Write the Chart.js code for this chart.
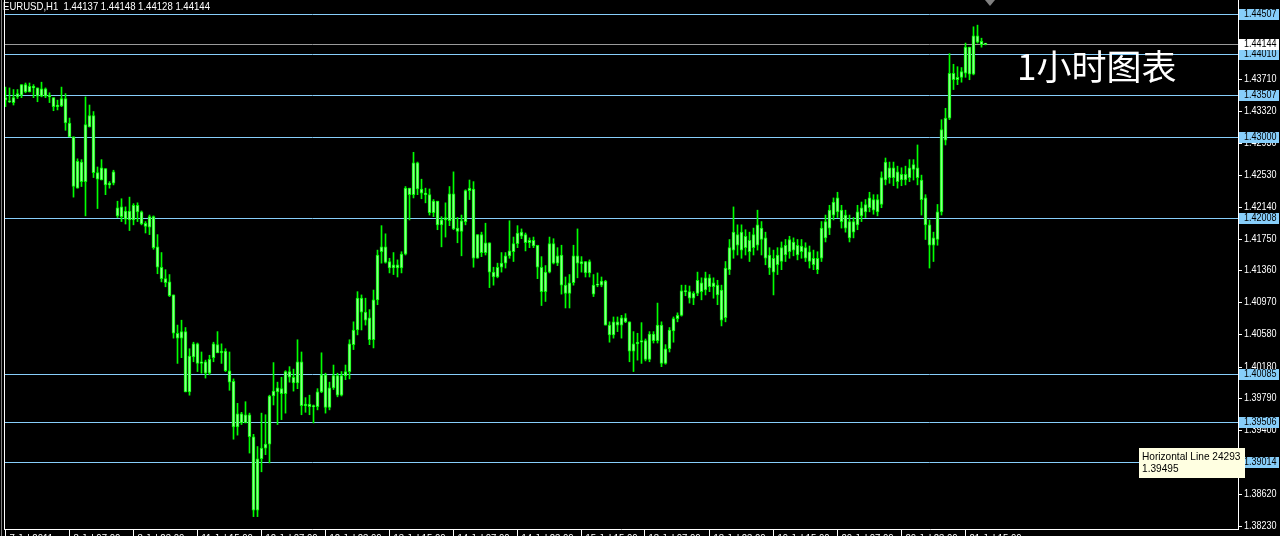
<!DOCTYPE html>
<html>
<head>
<meta charset="utf-8">
<script src="https://cdn.jsdelivr.net/npm/chart.js@4/dist/chart.umd.min.js"></script>
<style>
  html, body { margin: 0; padding: 0; background: #000; }
  canvas { display: block; }
</style>
</head>
<body>
<canvas id="chart" width="1280" height="536"></canvas>
<script>
// EURUSD H1 bars, oldest first
const opens = [
  1.4348, 1.4344, 1.4342, 1.4349, 1.4351, 1.4355, 1.4362, 1.4360, 1.4360, 1.4350,
  1.4359, 1.4351, 1.4348, 1.4337, 1.4338, 1.4347, 1.4317, 1.4300, 1.4237, 1.4269,
  1.4245, 1.4312, 1.4326, 1.4256, 1.4247, 1.4261, 1.4241, 1.4243, 1.4213, 1.4202,
  1.4209, 1.4198, 1.4198, 1.4216, 1.4208, 1.4190, 1.4189, 1.4202, 1.4165, 1.4140,
  1.4121, 1.4122, 1.4106, 1.4059, 1.4053, 1.4061, 1.3987, 1.4030, 1.4046, 1.4022,
  1.4024, 1.4010, 1.4029, 1.4045, 1.4035, 1.4037, 1.4013, 1.4000, 1.3944, 1.3960,
  1.3949, 1.3959, 1.3932, 1.3842, 1.3905, 1.3918, 1.3923, 1.3982, 1.3987, 1.3991,
  1.3985, 1.4012, 1.4005, 1.3998, 1.4024, 1.3970, 1.3972, 1.3969, 1.3969, 1.3987,
  1.4008, 1.3968, 1.3992, 1.4007, 1.3983, 1.4007, 1.4012, 1.4045, 1.4063, 1.4102,
  1.4085, 1.4078, 1.4051, 1.4100, 1.4159, 1.4165, 1.4147, 1.4139, 1.4143, 1.4139,
  1.4156, 1.4237, 1.4229, 1.4268, 1.4236, 1.4231, 1.4229, 1.4207, 1.4221, 1.4192,
  1.4198, 1.4197, 1.4230, 1.4188, 1.4184, 1.4196, 1.4234, 1.4236, 1.4151, 1.4180,
  1.4158, 1.4170, 1.4134, 1.4128, 1.4140, 1.4145, 1.4154, 1.4159, 1.4169, 1.4178,
  1.4180, 1.4170, 1.4173, 1.4167, 1.4140, 1.4110, 1.4134, 1.4169, 1.4145, 1.4155,
  1.4118, 1.4108, 1.4121, 1.4154, 1.4147, 1.4147, 1.4133, 1.4118, 1.4118, 1.4118,
  1.4123, 1.4069, 1.4057, 1.4073, 1.4069, 1.4078, 1.4073, 1.4037, 1.4046, 1.4048,
  1.4050, 1.4027, 1.4058, 1.4050, 1.4069, 1.4022, 1.4040, 1.4062, 1.4077, 1.4081,
  1.4111, 1.4110, 1.4102, 1.4108, 1.4121, 1.4112, 1.4127, 1.4116, 1.4118, 1.4112,
  1.4078, 1.4137, 1.4161, 1.4180, 1.4161, 1.4178, 1.4159, 1.4164, 1.4167, 1.4188,
  1.4176, 1.4155, 1.4151, 1.4143, 1.4147, 1.4155, 1.4159, 1.4171, 1.4167, 1.4159,
  1.4164, 1.4159, 1.4151, 1.4151, 1.4151, 1.4176, 1.4188, 1.4204, 1.4208, 1.4210,
  1.4204, 1.4196, 1.4183, 1.4192, 1.4203, 1.4208, 1.4213, 1.4223, 1.4208, 1.4217,
  1.4247, 1.4262, 1.4250, 1.4257, 1.4247, 1.4254, 1.4250, 1.4260, 1.4262, 1.4247,
  1.4225, 1.4192, 1.4167, 1.4174, 1.4208, 1.4296, 1.4323, 1.4378, 1.4370, 1.4373,
  1.4378, 1.4410, 1.4377, 1.4424, 1.4417, 1.44137
];
const highs = [
  1.4361, 1.4360, 1.4358, 1.4358, 1.4364, 1.4366, 1.4366, 1.4364, 1.4360, 1.4367,
  1.4360, 1.4354, 1.4348, 1.4345, 1.4361, 1.4353, 1.4323, 1.4300, 1.4273, 1.4272,
  1.4349, 1.4339, 1.4331, 1.4263, 1.4272, 1.4261, 1.4245, 1.4259, 1.4221, 1.4224,
  1.4214, 1.4226, 1.4218, 1.4219, 1.4209, 1.4196, 1.4204, 1.4203, 1.4180, 1.4158,
  1.4137, 1.4131, 1.4106, 1.4069, 1.4075, 1.4066, 1.4040, 1.4048, 1.4047, 1.4036,
  1.4026, 1.4032, 1.4048, 1.4061, 1.4046, 1.4040, 1.4036, 1.4003, 1.3973, 1.3962,
  1.3975, 1.3961, 1.3935, 1.3920, 1.3961, 1.3959, 1.3983, 1.4023, 1.3999, 1.4005,
  1.4013, 1.4018, 1.4015, 1.4051, 1.4036, 1.3980, 1.3983, 1.3971, 1.3991, 1.4035,
  1.4010, 1.3999, 1.4020, 1.4010, 1.4012, 1.4020, 1.4051, 1.4073, 1.4110, 1.4106,
  1.4102, 1.4088, 1.4112, 1.4161, 1.4191, 1.4181, 1.4151, 1.4158, 1.4149, 1.4159,
  1.4239, 1.4237, 1.4281, 1.4269, 1.4248, 1.4237, 1.4236, 1.4223, 1.4221, 1.4202,
  1.4219, 1.4239, 1.4257, 1.4201, 1.4204, 1.4235, 1.4247, 1.4245, 1.4180, 1.4183,
  1.4194, 1.4170, 1.4140, 1.4145, 1.4158, 1.4158, 1.4197, 1.4177, 1.4191, 1.4187,
  1.4182, 1.4176, 1.4177, 1.4167, 1.4153, 1.4142, 1.4177, 1.4175, 1.4164, 1.4167,
  1.4128, 1.4131, 1.4167, 1.4187, 1.4153, 1.4147, 1.4149, 1.4131, 1.4133, 1.4128,
  1.4124, 1.4073, 1.4079, 1.4079, 1.4081, 1.4083, 1.4073, 1.4061, 1.4059, 1.4072,
  1.4052, 1.4061, 1.4061, 1.4096, 1.4073, 1.4045, 1.4066, 1.4079, 1.4084, 1.4118,
  1.4118, 1.4117, 1.4110, 1.4134, 1.4127, 1.4134, 1.4131, 1.4127, 1.4124, 1.4118,
  1.4147, 1.4174, 1.4214, 1.4192, 1.4192, 1.4186, 1.4183, 1.4188, 1.4210, 1.4196,
  1.4183, 1.4164, 1.4161, 1.4164, 1.4171, 1.4174, 1.4178, 1.4176, 1.4174, 1.4174,
  1.4170, 1.4166, 1.4161, 1.4159, 1.4196, 1.4204, 1.4216, 1.4225, 1.4232, 1.4216,
  1.4210, 1.4204, 1.4201, 1.4216, 1.4220, 1.4223, 1.4232, 1.4229, 1.4229, 1.4257,
  1.4274, 1.4269, 1.4269, 1.4264, 1.4262, 1.4264, 1.4272, 1.4272, 1.4290, 1.4253,
  1.4229, 1.4198, 1.4183, 1.4217, 1.4321, 1.4335, 1.4402, 1.4389, 1.4386, 1.4385,
  1.4415, 1.4410, 1.4435, 1.4437, 1.4421, 1.44148
];
const lows = [
  1.4337, 1.4342, 1.4339, 1.4347, 1.4348, 1.4354, 1.4355, 1.4348, 1.4343, 1.4349,
  1.4348, 1.4342, 1.4332, 1.4333, 1.4337, 1.4308, 1.4300, 1.4226, 1.4237, 1.4239,
  1.4203, 1.4312, 1.4250, 1.4212, 1.4247, 1.4229, 1.4237, 1.4241, 1.4201, 1.4196,
  1.4193, 1.4185, 1.4192, 1.4196, 1.4192, 1.4182, 1.4180, 1.4162, 1.4132, 1.4122,
  1.4116, 1.4104, 1.4053, 1.4022, 1.4029, 1.3987, 1.3983, 1.4024, 1.4012, 1.4010,
  1.4004, 1.4008, 1.4024, 1.4035, 1.4022, 1.4012, 1.3989, 1.3929, 1.3934, 1.3947,
  1.3949, 1.3912, 1.3834, 1.3834, 1.3889, 1.3910, 1.3900, 1.3971, 1.3947, 1.3953,
  1.3961, 1.3999, 1.3988, 1.3991, 1.3959, 1.3962, 1.3959, 1.3949, 1.3965, 1.3986,
  1.3961, 1.3965, 1.3990, 1.3981, 1.3982, 1.4002, 1.4003, 1.4039, 1.4057, 1.4063,
  1.4069, 1.4045, 1.4041, 1.4094, 1.4145, 1.4145, 1.4133, 1.4131, 1.4128, 1.4133,
  1.4155, 1.4198, 1.4225, 1.4229, 1.4224, 1.4219, 1.4204, 1.4202, 1.4186, 1.4165,
  1.4177, 1.4191, 1.4186, 1.4170, 1.4154, 1.4192, 1.4223, 1.4140, 1.4151, 1.4153,
  1.4155, 1.4115, 1.4118, 1.4127, 1.4134, 1.4139, 1.4151, 1.4147, 1.4164, 1.4175,
  1.4160, 1.4164, 1.4164, 1.4126, 1.4093, 1.4098, 1.4133, 1.4144, 1.4142, 1.4107,
  1.4090, 1.4090, 1.4118, 1.4127, 1.4134, 1.4128, 1.4128, 1.4104, 1.4116, 1.4116,
  1.4069, 1.4048, 1.4053, 1.4061, 1.4053, 1.4072, 1.4024, 1.4012, 1.4026, 1.4022,
  1.4025, 1.4024, 1.4047, 1.4047, 1.4018, 1.4021, 1.4036, 1.4048, 1.4073, 1.4080,
  1.4105, 1.4096, 1.4094, 1.4105, 1.4100, 1.4106, 1.4110, 1.4102, 1.4094, 1.4068,
  1.4073, 1.4131, 1.4151, 1.4155, 1.4151, 1.4155, 1.4147, 1.4155, 1.4161, 1.4155,
  1.4143, 1.4131, 1.4106, 1.4131, 1.4137, 1.4147, 1.4151, 1.4154, 1.4149, 1.4151,
  1.4147, 1.4139, 1.4137, 1.4132, 1.4147, 1.4171, 1.4180, 1.4198, 1.4201, 1.4188,
  1.4183, 1.4171, 1.4176, 1.4186, 1.4196, 1.4201, 1.4208, 1.4205, 1.4203, 1.4213,
  1.4241, 1.4243, 1.4240, 1.4237, 1.4240, 1.4241, 1.4245, 1.4247, 1.4241, 1.4204,
  1.4174, 1.4139, 1.4147, 1.4167, 1.4204, 1.4290, 1.4321, 1.4358, 1.4364, 1.4367,
  1.4373, 1.4370, 1.4376, 1.4415, 1.4410, 1.44128
];
const closes = [
  1.4345, 1.4343, 1.4348, 1.4353, 1.4364, 1.4364, 1.4355, 1.4362, 1.4350, 1.4359,
  1.4350, 1.4349, 1.4337, 1.4339, 1.4347, 1.4317, 1.4300, 1.4239, 1.4270, 1.4245,
  1.4315, 1.4326, 1.4256, 1.4248, 1.4262, 1.4241, 1.4243, 1.4257, 1.4203, 1.4214,
  1.4199, 1.4209, 1.4216, 1.4208, 1.4193, 1.4194, 1.4202, 1.4164, 1.4140, 1.4126,
  1.4126, 1.4105, 1.4059, 1.4053, 1.4061, 1.3987, 1.4031, 1.4046, 1.4022, 1.4024,
  1.4010, 1.4027, 1.4046, 1.4035, 1.4037, 1.4013, 1.3999, 1.3944, 1.3960, 1.3949,
  1.3959, 1.3932, 1.3842, 1.3905, 1.3918, 1.3923, 1.3982, 1.3988, 1.3992, 1.3985,
  1.4012, 1.4005, 1.3998, 1.4024, 1.3970, 1.3972, 1.3969, 1.3970, 1.3987, 1.4008,
  1.3968, 1.3992, 1.4007, 1.3983, 1.4007, 1.4012, 1.4046, 1.4063, 1.4102, 1.4085,
  1.4075, 1.4051, 1.4100, 1.4155, 1.4165, 1.4146, 1.4139, 1.4143, 1.4139, 1.4156,
  1.4237, 1.4229, 1.4268, 1.4236, 1.4231, 1.4229, 1.4207, 1.4221, 1.4192, 1.4198,
  1.4201, 1.4230, 1.4187, 1.4184, 1.4197, 1.4234, 1.4237, 1.4151, 1.4180, 1.4158,
  1.4170, 1.4134, 1.4128, 1.4140, 1.4145, 1.4154, 1.4160, 1.4169, 1.4182, 1.4183,
  1.4170, 1.4173, 1.4166, 1.4140, 1.4110, 1.4134, 1.4169, 1.4145, 1.4154, 1.4118,
  1.4108, 1.4121, 1.4154, 1.4145, 1.4144, 1.4133, 1.4147, 1.4107, 1.4119, 1.4123,
  1.4069, 1.4057, 1.4073, 1.4069, 1.4078, 1.4073, 1.4037, 1.4046, 1.4048, 1.4050,
  1.4027, 1.4058, 1.4050, 1.4069, 1.4022, 1.4040, 1.4063, 1.4077, 1.4081, 1.4111,
  1.4110, 1.4102, 1.4108, 1.4124, 1.4110, 1.4127, 1.4116, 1.4121, 1.4106, 1.4075,
  1.4139, 1.4164, 1.4183, 1.4167, 1.4183, 1.4164, 1.4173, 1.4180, 1.4192, 1.4174,
  1.4151, 1.4139, 1.4134, 1.4155, 1.4164, 1.4167, 1.4174, 1.4161, 1.4155, 1.4166,
  1.4151, 1.4147, 1.4143, 1.4137, 1.4188, 1.4196, 1.4210, 1.4220, 1.4225, 1.4196,
  1.4188, 1.4176, 1.4196, 1.4208, 1.4213, 1.4217, 1.4225, 1.4210, 1.4223, 1.4250,
  1.4269, 1.4250, 1.4262, 1.4245, 1.4254, 1.4247, 1.4262, 1.4266, 1.4250, 1.4223,
  1.4192, 1.4167, 1.4176, 1.4208, 1.4309, 1.4323, 1.4378, 1.4370, 1.4373, 1.4380,
  1.4410, 1.4377, 1.4424, 1.4416, 1.4413, 1.44144
];

// right price scale
const priceTicks = [
  1.44490, 1.44100, 1.43710, 1.43320, 1.42930, 1.42530, 1.42140, 1.41750, 1.41360,
  1.40970, 1.40580, 1.40180, 1.39790, 1.39400, 1.39010, 1.38620, 1.38230
];
// user horizontal lines
const levelLines = [1.44507, 1.44010, 1.43507, 1.43000, 1.42008, 1.40085, 1.39506, 1.39014];
const currentPrice = 1.44144;

// one time label every 16 bars
const timeLabels = [
  "7 Jul 2011", "8 Jul 07:00", "8 Jul 23:00", "11 Jul 15:00", "12 Jul 07:00", "12 Jul 23:00",
  "13 Jul 15:00", "14 Jul 07:00", "14 Jul 23:00", "15 Jul 15:00", "18 Jul 07:00", "18 Jul 23:00",
  "19 Jul 15:00", "20 Jul 07:00", "20 Jul 23:00", "21 Jul 15:00"
];
const LABEL_STEP = 16;

const headerText = "EURUSD,H1  1.44137 1.44148 1.44128 1.44144";
const titleText = "1小时图表";
const hintLines = ["Horizontal Line 24293", "1.39495"];

const LIME = "#00ff00";
const LEVEL_COLOR = "#87cefa";
const SANS = '"Liberation Sans", Arial, sans-serif';

// small helper, draws squeezed text like the terminal font
function drawText(ctx, text, x, y, size, sx, color, baseline) {
  ctx.save();
  ctx.font = size + "px " + SANS;
  ctx.fillStyle = color;
  ctx.textBaseline = baseline || "middle";
  ctx.translate(x, y);
  ctx.scale(sx, 1);
  ctx.fillText(text, 0, 0);
  ctx.restore();
}

function hLine(ctx, x1, x2, y) {
  ctx.beginPath();
  ctx.moveTo(x1, y);
  ctx.lineTo(x2, y);
  ctx.stroke();
}

function vLine(ctx, x, y1, y2) {
  ctx.beginPath();
  ctx.moveTo(x, y1);
  ctx.lineTo(x, y2);
  ctx.stroke();
}

const bodies = opens.map((o, i) => ({ x: i, y: [o, closes[i]] }));
const wicks = lows.map((l, i) => ({ x: i, y: [l, highs[i]] }));

const terminalLook = {
  id: "terminalLook",
  beforeDraw(chart) {
    const ctx = chart.ctx;
    ctx.save();
    ctx.fillStyle = "#000";
    ctx.fillRect(0, 0, chart.width, chart.height);
    ctx.restore();
  },
  beforeDatasetsDraw(chart) {
    const { ctx, chartArea: a, scales } = chart;
    const y = scales.y;
    ctx.save();
    ctx.lineWidth = 1;
    ctx.strokeStyle = "#9a9a9a";
    hLine(ctx, a.left, a.right, Math.round(y.getPixelForValue(currentPrice)) + 0.5);
    ctx.strokeStyle = LEVEL_COLOR;
    levelLines.forEach(v => {
      hLine(ctx, a.left, a.right, Math.round(y.getPixelForValue(v)) + 0.5);
    });
    ctx.restore();
  },
  afterDraw(chart) {
    const { ctx, chartArea: a, scales } = chart;
    const x = scales.x;
    const y = scales.y;
    ctx.save();
    ctx.lineWidth = 1;

    // frame
    ctx.strokeStyle = "#808080";
    vLine(ctx, 1.5, 0, 536);
    ctx.strokeStyle = "#ffffff";
    vLine(ctx, a.left + 0.5, 0, a.bottom);
    vLine(ctx, a.right + 0.5, 0, a.bottom);
    hLine(ctx, a.left, a.right + 1, a.bottom - 0.5);

    // price scale
    priceTicks.forEach(v => {
      const py = Math.round(y.getPixelForValue(v));
      hLine(ctx, a.right, a.right + 4, py + 0.5);
      drawText(ctx, v.toFixed(5), a.right + 6, py, 11, 0.82, "#ffffff");
    });
    levelLines.forEach(v => {
      const py = Math.round(y.getPixelForValue(v));
      ctx.fillStyle = LEVEL_COLOR;
      ctx.fillRect(a.right + 1, py - 5, 40, 11);
      drawText(ctx, v.toFixed(5), a.right + 6, py, 11, 0.82, "#000000");
    });
    const cy = Math.round(y.getPixelForValue(currentPrice));
    ctx.fillStyle = "#ffffff";
    ctx.fillRect(a.right + 1, cy - 5, 40, 11);
    drawText(ctx, currentPrice.toFixed(5), a.right + 6, cy, 11, 0.82, "#000000");

    // time scale
    timeLabels.forEach((t, k) => {
      const px = Math.round(x.getPixelForValue(k * LABEL_STEP)) - 0.5;
      vLine(ctx, px, a.bottom, 536);
      drawText(ctx, t, px + 4, 533, 11, 0.87, "#ffffff", "top");
    });

    // header and title
    drawText(ctx, headerText, 3, 1, 11, 0.87, "#ffffff", "top");
    ctx.font = '35px "Noto Sans CJK SC", sans-serif';
    ctx.fillStyle = "#ffffff";
    ctx.textBaseline = "middle";
    ctx.fillText(titleText, 1017, 67);

    // chart shift marker
    ctx.fillStyle = "#808080";
    ctx.beginPath();
    ctx.moveTo(985, 0);
    ctx.lineTo(995, 0);
    ctx.lineTo(990, 6);
    ctx.closePath();
    ctx.fill();

    // hover hint of a horizontal line
    ctx.fillStyle = "#ffffe1";
    ctx.fillRect(1139, 448, 106, 30);
    drawText(ctx, hintLines[0], 1142, 457, 11, 0.92, "#000000");
    drawText(ctx, hintLines[1], 1142, 469, 11, 0.92, "#000000");
    ctx.restore();
  }
};

new Chart(document.getElementById("chart"), {
  type: "bar",
  data: {
    datasets: [
      {
        label: "body",
        data: bodies,
        backgroundColor: "#8cff8c",
        borderColor: LIME,
        borderWidth: 1,
        borderSkipped: false,
        barThickness: 3,
        minBarLength: 1,
        grouped: false
      },
      {
        label: "wick",
        data: wicks,
        backgroundColor: LIME,
        borderWidth: 0,
        barThickness: 1,
        grouped: false
      }
    ]
  },
  options: {
    responsive: false,
    animation: false,
    devicePixelRatio: 1,
    events: [],
    layout: { padding: { left: 4, right: 42, top: 2, bottom: 6 } },
    scales: {
      x: { type: "linear", min: -0.375, max: 308.125, offset: false, display: false },
      y: { type: "linear", min: 1.38176, max: 1.44654, display: false }
    },
    plugins: {
      legend: { display: false },
      tooltip: { enabled: false }
    }
  },
  plugins: [terminalLook]
});
</script>
</body>
</html>
